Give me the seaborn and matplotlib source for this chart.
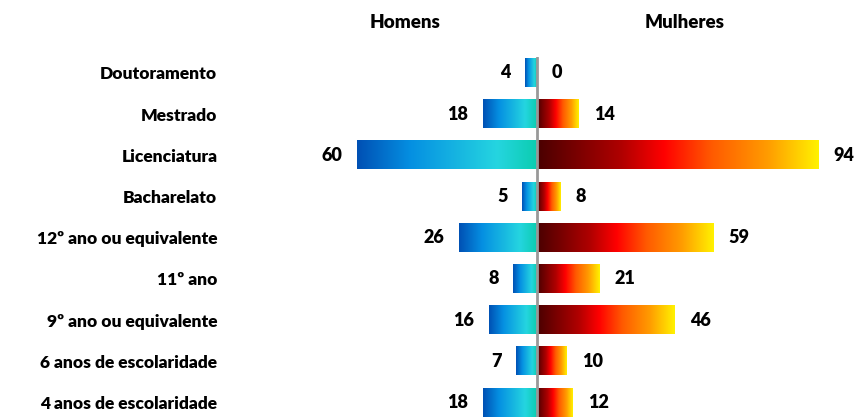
import numpy as np
import pandas as pd
import matplotlib
matplotlib.use('Agg')
import matplotlib.pyplot as plt
from matplotlib.colors import LinearSegmentedColormap
import seaborn as sns

categories = ['Doutoramento', 'Mestrado', 'Licenciatura', 'Bacharelato',
              '12º ano ou equivalente', '11º ano', '9º ano ou equivalente',
              '6 anos de escolaridade', '4 anos de escolaridade']
homens = [4, 18, 60, 5, 26, 8, 16, 7, 18]
mulheres = [0, 14, 94, 8, 59, 21, 46, 10, 12]

sns.set_theme(style='white')
plt.rcParams['font.family'] = ['Lato', 'DejaVu Sans']
plt.rcParams['font.weight'] = 'bold'

blue_cmap = LinearSegmentedColormap.from_list(
    'blues', [(0, '#0050b4'), (0.3, '#0590e2'), (0.78, '#25d5e0'), (1, '#0ccdb0')])
red_cmap = LinearSegmentedColormap.from_list(
    'reds', [(0, '#4a0000'), (0.3, '#b00000'), (0.45, '#ff0000'),
             (0.62, '#ff5a00'), (0.82, '#ff9c00'), (1, '#fff200')])

df = pd.DataFrame({'categoria': categories,
                   'homens': [-v for v in homens],
                   'mulheres': mulheres})

fig = plt.figure(figsize=(8.56, 4.17), dpi=100)
ax = fig.add_axes([234 / 856, 0, (855 - 234) / 856, (417 - 56.5) / 417])

sns.barplot(data=df, x='homens', y='categoria', orient='h', width=0.68, ax=ax)
n_men = len(ax.patches)
sns.barplot(data=df, x='mulheres', y='categoria', orient='h', width=0.68, ax=ax)

# paint a horizontal gradient over each bar
grad = np.linspace(0, 1, 256).reshape(1, -1)
for i, p in enumerate(ax.patches):
    x0, y0 = p.get_x(), p.get_y()
    w, h = p.get_width(), p.get_height()
    p.set_facecolor('none')
    p.set_edgecolor('none')
    if w == 0:
        continue
    xa, xb = sorted([x0, x0 + w])
    cmap = blue_cmap if i < n_men else red_cmap
    ax.imshow(grad, cmap=cmap, aspect='auto', extent=(xa, xb, y0 + h, y0),
              zorder=2, interpolation='bicubic')

ax.set_xlim(-101, 106)
ax.set_ylim(8.35, -0.4)
ax.axvline(0, color='#999999', lw=2, zorder=3)

for i, (h_val, m_val) in enumerate(zip(homens, mulheres)):
    ax.annotate(str(h_val), xy=(-h_val, i), xytext=(-10.5, 0), textcoords='offset points',
                ha='right', va='center', fontsize=13, fontweight='heavy', color='black')
    ax.annotate(str(m_val), xy=(m_val, i), xytext=(10.5, 0), textcoords='offset points',
                ha='left', va='center', fontsize=13, fontweight='heavy', color='black')

ax.set_yticks(range(len(categories)))
ax.set_yticklabels(categories, fontsize=12.5, fontweight='heavy', color='black')
ax.tick_params(axis='y', length=0, pad=12)
ax.set_xticks([])
ax.set_xlabel('')
ax.set_ylabel('')
for s in ax.spines.values():
    s.set_visible(False)

fig.text(405 / 856, 1 - 22 / 417, 'Homens', ha='center', va='center',
         fontsize=13.5, fontweight='heavy', color='black')
fig.text(685 / 856, 1 - 22 / 417, 'Mulheres', ha='center', va='center',
         fontsize=13.5, fontweight='heavy', color='black')

fig.savefig('out.png', dpi=100)
